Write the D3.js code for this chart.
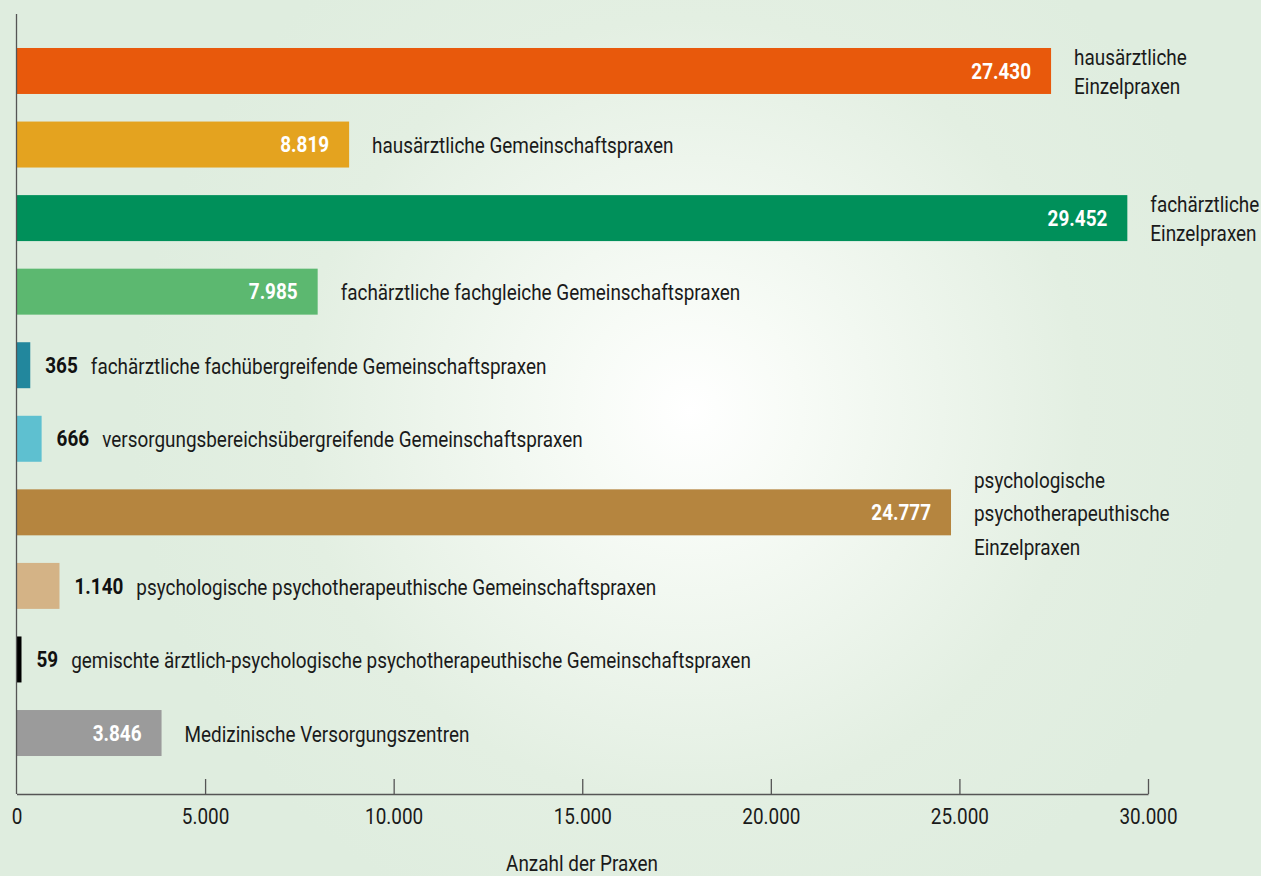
<!DOCTYPE html>
<html>
<head>
<meta charset="utf-8">
<script src="https://cdn.jsdelivr.net/npm/d3@7"></script>
<style>
  body { margin: 0; background: #dfeddf; }
  svg text { font-family: Roboto, "Noto Sans", sans-serif; fill: #1a1a1a; font-size: 22px; }
  .axis path, .axis line { stroke: #555; }
</style>
</head>
<body>
<div id="chart"></div>
<script>
// Praxen nach Praxisform
var categories = [
  'hausärztliche Einzelpraxen',
  'hausärztliche Gemeinschaftspraxen',
  'fachärztliche Einzelpraxen',
  'fachärztliche fachgleiche Gemeinschaftspraxen',
  'fachärztliche fachübergreifende Gemeinschaftspraxen',
  'versorgungsbereichsübergreifende Gemeinschaftspraxen',
  'psychologische psychotherapeuthische Einzelpraxen',
  'psychologische psychotherapeuthische Gemeinschaftspraxen',
  'gemischte ärztlich-psychologische psychotherapeuthische Gemeinschaftspraxen',
  'Medizinische Versorgungszentren'
];
// how the category label is broken into lines
var labelLines = [
  ['hausärztliche', 'Einzelpraxen'],
  ['hausärztliche Gemeinschaftspraxen'],
  ['fachärztliche', 'Einzelpraxen'],
  ['fachärztliche fachgleiche Gemeinschaftspraxen'],
  ['fachärztliche fachübergreifende Gemeinschaftspraxen'],
  ['versorgungsbereichsübergreifende Gemeinschaftspraxen'],
  ['psychologische', 'psychotherapeuthische', 'Einzelpraxen'],
  ['psychologische psychotherapeuthische Gemeinschaftspraxen'],
  ['gemischte ärztlich-psychologische psychotherapeuthische Gemeinschaftspraxen'],
  ['Medizinische Versorgungszentren']
];
var values = [27430, 8819, 29452, 7985, 365, 666, 24777, 1140, 59, 3846];
var colors = ['#e8590c', '#e4a31f', '#00905a', '#5cb870', '#22879d',
              '#5ec0d0', '#b5853f', '#d4b386', '#000000', '#9b9b9b'];
var xTicks = [0, 5000, 10000, 15000, 20000, 25000, 30000];

var W = 1261, H = 876;
var SX = 0.86; // squeeze text horizontally to look like a condensed face
var fmt = d3.format(',');
var de = function (v) { return fmt(v).replace(/,/g, '.'); };

var svg = d3.select('#chart').append('svg')
  .attr('width', W).attr('height', H);

var defs = svg.append('defs');
var grad = defs.append('radialGradient')
  .attr('id', 'bg')
  .attr('gradientUnits', 'userSpaceOnUse')
  .attr('cx', 690).attr('cy', 410).attr('r', 560);
grad.append('stop').attr('offset', '0%').attr('stop-color', '#ffffff');
grad.append('stop').attr('offset', '20%').attr('stop-color', '#f7fbf6');
grad.append('stop').attr('offset', '70%').attr('stop-color', '#e3efe2');
grad.append('stop').attr('offset', '100%').attr('stop-color', '#dfeddf');

svg.append('rect').attr('width', W).attr('height', H).attr('fill', 'url(#bg)');

// condensed text helper: returns the <text> placed in a squeezed group
function ctext(px, py, anchor) {
  return svg.append('g')
    .attr('transform', 'translate(' + px + ',' + py + ') scale(' + SX + ',1)')
    .append('text')
    .attr('text-anchor', anchor || 'start')
    .attr('dy', '0.35em');
}

var x = d3.scaleLinear().domain([0, 30000]).range([16.5, 1148]);
var y = d3.scaleBand()
  .domain(categories)
  .range([34.2, 769.8])
  .paddingInner(0.375)
  .paddingOuter(0.1875);

var data = categories.map(function (c, i) {
  return { cat: c, lines: labelLines[i], value: values[i], color: colors[i] };
});

// bars
svg.selectAll('.bar')
  .data(data)
  .enter()
  .append('rect')
  .attr('class', 'bar')
  .attr('x', x(0))
  .attr('y', function (d) { return y(d.cat); })
  .attr('width', function (d) { return Math.max(x(d.value) - x(0), 5); })
  .attr('height', y.bandwidth())
  .attr('fill', function (d) { return d.color; });

var inside = function (d) { return d.value > 3000; };
var barEnd = function (d) { return x(0) + Math.max(x(d.value) - x(0), 5); };

data.forEach(function (d) {
  var cy = y(d.cat) + y.bandwidth() / 2;
  var labelX;
  if (inside(d)) {
    ctext(barEnd(d) - 20, cy, 'end')
      .style('font-weight', 'bold')
      .style('fill', '#ffffff')
      .text(de(d.value));
    labelX = barEnd(d) + 23;
  } else {
    var v = ctext(barEnd(d) + 15, cy, 'start')
      .style('font-weight', 'bold')
      .style('fill', '#111111')
      .text(de(d.value));
    labelX = barEnd(d) + 15 + v.node().getComputedTextLength() * SX + 13;
  }
  var n = d.lines.length;
  var lh = n > 2 ? 33.5 : 29;
  d.lines.forEach(function (line, i) {
    ctext(labelX, cy + 1 + (i - (n - 1) / 2) * lh, 'start').text(line);
  });
});

// y axis line
svg.append('line')
  .attr('x1', x(0)).attr('x2', x(0))
  .attr('y1', 14).attr('y2', 794)
  .attr('stroke', '#555').attr('stroke-width', 1.3);

// x axis
var xAxis = svg.append('g')
  .attr('class', 'x axis')
  .attr('transform', 'translate(0,794)')
  .call(d3.axisBottom(x).tickValues(xTicks).tickSizeInner(-15).tickSizeOuter(0).tickFormat(de));

xAxis.select('.domain').attr('stroke-width', 1.3);
xAxis.selectAll('.tick line').attr('stroke-width', 1.3);
xAxis.selectAll('.tick line').filter(function (d) { return d === 0; }).remove();
xAxis.selectAll('.tick text')
  .attr('y', 0)
  .attr('dy', '0.35em')
  .attr('transform', 'translate(0,22) scale(' + SX + ',1)')
  .style('font-size', '22px')
  .style('font-family', 'Roboto, sans-serif')
  .style('fill', '#1a1a1a');

ctext(582, 863, 'middle').text('Anzahl der Praxen');
</script>
</body>
</html>
